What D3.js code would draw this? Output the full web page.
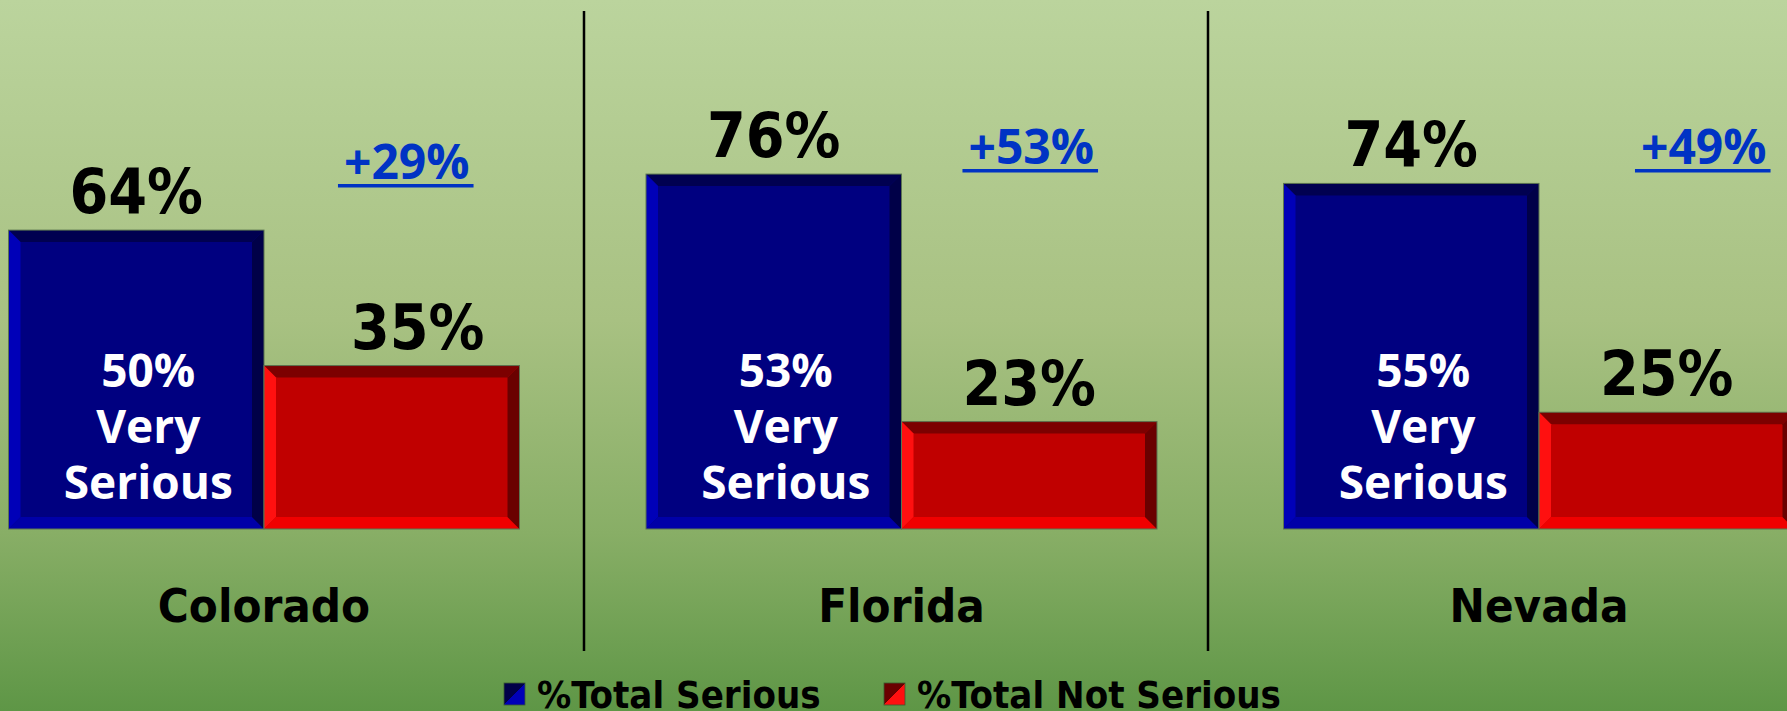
<!DOCTYPE html>
<html>
<head>
<meta charset="utf-8">
<script src="https://cdn.jsdelivr.net/npm/d3@7"></script>
<style>
  html, body { margin: 0; padding: 0; overflow: hidden; }
  svg { display: block; }
  .tahoma { font-family: "DejaVu Sans Condensed", "DejaVu Sans", sans-serif; font-weight: bold; font-stretch: condensed; }
  .segoe { font-family: "Open Sans", Lato, sans-serif; font-weight: 700; }
</style>
</head>
<body>
<svg id="chart"></svg>
<script>
'use strict';

// values
var states = ['Colorado', 'Florida', 'Nevada'];
var seriesNames = ['%Total Serious', '%Total Not Serious'];
var totalSerious = [64, 76, 74];
var totalNotSerious = [35, 23, 25];
var verySerious = [50, 53, 55];
var netSerious = [29, 53, 49];

var W = 1787, H = 711;

var svg = d3.select('#chart').attr('width', W).attr('height', H);
var defs = svg.append('defs');

// background gradient, light green on top to darker green at the bottom
var bg = defs.append('linearGradient').attr('id', 'bg')
  .attr('x1', 0).attr('y1', 0).attr('x2', 0).attr('y2', 1);
[[0, '#bbd49d'], [0.45, '#a8c182'], [0.75, '#88ae66'], [1, '#5e9646']].forEach(function (s) {
  bg.append('stop').attr('offset', s[0]).attr('stop-color', s[1]);
});
svg.append('rect').attr('width', W).attr('height', H).attr('fill', 'url(#bg)');

// bar colours: face, top, left, bottom, right
var palette = {
  serious:    { face: '#000080', top: '#000050', left: '#0000b8', bottom: '#0000a8', right: '#000048' },
  notSerious: { face: '#c00000', top: '#7c0000', left: '#ff1010', bottom: '#f00000', right: '#6a0000' }
};

// scales
var x0 = d3.scaleBand().domain(states).range([8.5, 1794.5]).paddingInner(126.5 / 637.5);
var x1 = d3.scaleBand().domain(['serious', 'notSerious']).range([0, x0.bandwidth()]);
var y = d3.scaleLinear().domain([0, 100]).range([529, 62]);

var rows = states.map(function (s, i) {
  return {
    state: s,
    bars: [
      { key: 'serious', value: totalSerious[i] },
      { key: 'notSerious', value: totalNotSerious[i] }
    ],
    very: verySerious[i],
    net: netSerious[i]
  };
});

// dividers between the panels
[584, 1208].forEach(function (dx) {
  svg.append('line').attr('x1', dx).attr('x2', dx).attr('y1', 11).attr('y2', 651)
    .attr('stroke', '#000').attr('stroke-width', 2.5);
});

var groups = svg.selectAll('g.state').data(rows).enter().append('g')
  .attr('class', 'state')
  .attr('transform', function (d) { return 'translate(' + x0(d.state) + ',0)'; });

var bevel = 12;

function bevelBar(g, d) {
  var bx = x1(d.key), bw = x1.bandwidth();
  var top = y(d.value), bot = y(0);
  var c = palette[d.key];
  var b = Math.min(bevel, (bot - top) / 2);
  g.append('rect').attr('x', bx).attr('y', top).attr('width', bw).attr('height', bot - top).attr('fill', c.face);
  var poly = function (pts, fill) {
    g.append('polygon').attr('points', pts.map(function (p) { return p.join(','); }).join(' ')).attr('fill', fill);
  };
  poly([[bx, top], [bx + bw, top], [bx + bw - b, top + b], [bx + b, top + b]], c.top);
  poly([[bx, top], [bx + b, top + b], [bx + b, bot - b], [bx, bot]], c.left);
  poly([[bx, bot], [bx + b, bot - b], [bx + bw - b, bot - b], [bx + bw, bot]], c.bottom);
  poly([[bx + bw, top], [bx + bw, bot], [bx + bw - b, bot - b], [bx + bw - b, top + b]], c.right);
  g.append('rect').attr('x', bx).attr('y', top).attr('width', bw).attr('height', bot - top)
    .attr('fill', 'none').attr('stroke', '#5b7550').attr('stroke-width', 1);
}

groups.each(function (d) {
  var g = d3.select(this);
  d.bars.forEach(function (b) { bevelBar(g, b); });
});

// value labels above bars (Excel placed the Colorado red one a bit to the right)
var labelNudge = { Colorado: 26 };
groups.each(function (d) {
  var g = d3.select(this);
  d.bars.forEach(function (b) {
    var nx = b.key === 'notSerious' ? (labelNudge[d.state] || 0) : 0;
    g.append('text').attr('class', 'tahoma')
      .attr('x', x1(b.key) + x1.bandwidth() / 2 + nx)
      .attr('y', y(b.value) - 17)
      .attr('text-anchor', 'middle').attr('font-size', 62).attr('fill', '#000')
      .text(b.value + '%');
  });
});

// "very serious" text inside the blue bar
groups.each(function (d) {
  var t = d3.select(this).append('text').attr('class', 'segoe')
    .attr('text-anchor', 'middle').attr('font-size', 46).attr('fill', '#fff');
  var cx = x1('serious') + x1.bandwidth() / 2 + 12;
  [d.very + '%', 'Very', 'Serious'].forEach(function (line, i) {
    t.append('tspan').attr('x', cx).attr('y', 387 + i * 56).text(line);
  });
});

// net difference, blue underlined
var netPos = { Colorado: [15, 179], Florida: [2, 164], Nevada: [37, 164] };
groups.each(function (d) {
  var g = d3.select(this);
  var p = netPos[d.state];
  var cx = x1('notSerious') + x1.bandwidth() / 2 + p[0];
  var t = g.append('text').attr('class', 'segoe')
    .attr('x', cx).attr('y', p[1]).attr('text-anchor', 'middle')
    .attr('font-size', 48).attr('fill', '#0033c4').text('+' + d.net + '%');
  var len = t.node().getComputedTextLength();
  g.append('rect').attr('x', cx - len / 2 - 6).attr('y', p[1] + 5)
    .attr('width', len + 10).attr('height', 3.5).attr('fill', '#0033c4');
});

// state names under the bars
groups.append('text').attr('class', 'tahoma')
  .attr('x', x0.bandwidth() / 2).attr('y', 622)
  .attr('text-anchor', 'middle').attr('font-size', 47).attr('fill', '#000')
  .text(function (d) { return d.state; });

// legend
var legendKeys = ['serious', 'notSerious'];
legendKeys.forEach(function (k) {
  var gr = defs.append('linearGradient').attr('id', 'lg-' + k)
    .attr('x1', 0).attr('y1', 0).attr('x2', 1).attr('y2', 1);
  gr.append('stop').attr('offset', 0.5).attr('stop-color', palette[k].right);
  gr.append('stop').attr('offset', 0.5).attr('stop-color', palette[k].left);
});
var legendX = [504, 884];
var legend = svg.selectAll('g.legend').data(seriesNames).enter().append('g')
  .attr('class', 'legend')
  .attr('transform', function (d, i) { return 'translate(' + legendX[i] + ',683)'; });
legend.append('rect').attr('width', 21).attr('height', 22)
  .attr('fill', function (d, i) { return 'url(#lg-' + legendKeys[i] + ')'; })
  .attr('stroke', '#3a5a30').attr('stroke-width', 0.8);
legend.append('text').attr('class', 'tahoma')
  .attr('x', 33).attr('y', 25).attr('font-size', 38).attr('fill', '#000')
  .text(function (d) { return d; });
</script>
</body>
</html>
